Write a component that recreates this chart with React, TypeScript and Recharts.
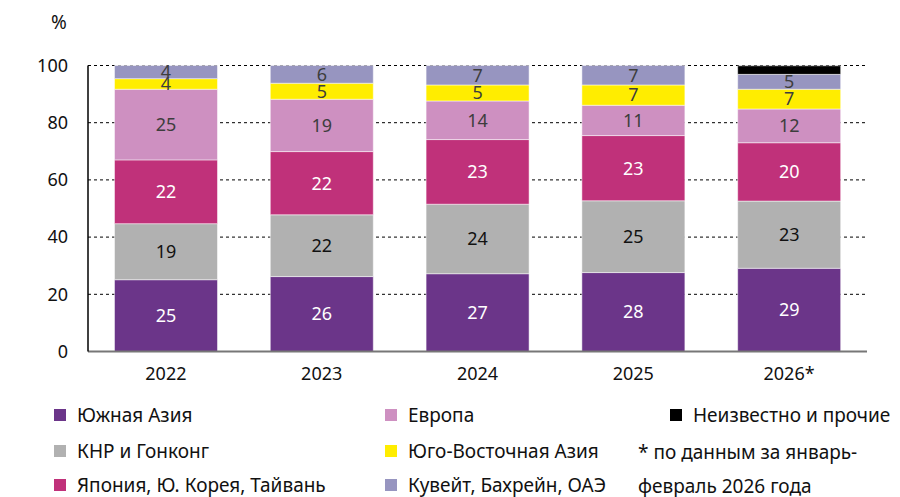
import { Bar, BarChart, CartesianGrid, LabelList, XAxis, YAxis } from "recharts";

const years = ["2022", "2023", "2024", "2025", "2026*"];

// segment heights (pp of total)
const southAsia = [25.1, 26.2, 27.2, 27.6, 29.1];
const china = [19.6, 21.6, 24.3, 25.1, 23.5];
const japanKorea = [22.3, 22.1, 22.6, 22.8, 20.4];
const europe = [24.7, 18.3, 13.5, 10.6, 11.8];
const seAsia = [3.7, 5.6, 5.6, 7.1, 6.9];
const gulf = [4.6, 6.2, 6.8, 6.8, 5.2];
const other = [0, 0, 0, 0, 3.0];

// printed labels
const southAsiaLbl = [25, 26, 27, 28, 29];
const chinaLbl = [19, 22, 24, 25, 23];
const japanKoreaLbl = [22, 22, 23, 23, 20];
const europeLbl = [25, 19, 14, 11, 12];
const seAsiaLbl = [4, 5, 5, 7, 7];
const gulfLbl = [4, 6, 7, 7, 5];

const yTicks = [0, 20, 40, 60, 80, 100];

const PURPLE = "#6b3589";
const GREY = "#b1b1b1";
const MAGENTA = "#c0317a";
const PINK = "#ce90c1";
const YELLOW = "#ffed00";
const LAVENDER = "#9795c0";
const BLACK = "#000000";
const DARK = "#3d3d3d";
const FONT = "'Noto Sans', sans-serif";

const rows = years.map((y, i) => ({
  year: y,
  sa: southAsia[i],
  cn: china[i],
  jk: japanKorea[i],
  eu: europe[i],
  se: seAsia[i],
  gu: gulf[i],
  ot: other[i],
  saL: southAsiaLbl[i],
  cnL: chinaLbl[i],
  jkL: japanKoreaLbl[i],
  euL: europeLbl[i],
  seL: seAsiaLbl[i],
  guL: gulfLbl[i],
}));

const series = [
  { key: "sa", label: "saL", color: PURPLE, text: "#ffffff" },
  { key: "cn", label: "cnL", color: GREY, text: "#111111" },
  { key: "jk", label: "jkL", color: MAGENTA, text: "#ffffff" },
  { key: "eu", label: "euL", color: PINK, text: DARK },
  { key: "se", label: "seL", color: YELLOW, text: DARK },
  { key: "gu", label: "guL", color: LAVENDER, text: DARK },
  { key: "ot", label: "", color: BLACK, text: "" },
];

function Sq({ color }: { color: string }) {
  return <span style={{ display: "inline-block", width: 12, height: 12, background: color, marginRight: 11 }} />;
}

function Item({ x, y, color, label }: { x: number; y: number; color: string; label: string }) {
  return (
    <div style={{ position: "absolute", left: x, top: y, display: "flex", alignItems: "center", whiteSpace: "nowrap", lineHeight: "26px" }}>
      <Sq color={color} />
      <span>{label}</span>
    </div>
  );
}

export default function App() {
  return (
    <div style={{ position: "absolute", left: 0, top: 0, width: 900, height: 497, fontFamily: FONT, fontSize: 19, color: "#111", background: "#fff" }}>
      <div style={{ position: "absolute", left: 51, top: 9, fontSize: 19 }}>%</div>
      <BarChart
        width={900}
        height={400}
        data={rows}
        margin={{ top: 65.5, right: 33, left: 0, bottom: 18.5 }}
        barCategoryGap="17%"
      >
        <CartesianGrid vertical={false} stroke="#000" strokeDasharray="3 3" strokeWidth={1} />
        <XAxis
          dataKey="year"
          tickLine={false}
          tickSize={0}
          tickMargin={16}
          height={30}
          axisLine={{ stroke: "#777", strokeWidth: 2 }}
          tick={{ fill: "#111", fontSize: 18, fontFamily: FONT }}
        />
        <YAxis
          domain={[0, 100]}
          ticks={yTicks}
          width={88}
          tickLine={false}
          tickSize={0}
          tickMargin={20}
          axisLine={{ stroke: "#000", strokeWidth: 1.5 }}
          tick={{ fill: "#111", fontSize: 18, fontFamily: FONT }}
        />
        {series.map((s) => (
          <Bar key={s.key} dataKey={s.key} stackId="a" fill={s.color} stroke="#ffffff" strokeWidth={0.5} isAnimationActive={false}>
            {s.label ? (
              <LabelList dataKey={s.label} position="center" fill={s.text} fontSize={18} fontFamily={FONT} />
            ) : null}
          </Bar>
        ))}
      </BarChart>
      <Item x={54} y={402} color={PURPLE} label="Южная Азия" />
      <Item x={54} y={438} color={GREY} label="КНР и Гонконг" />
      <Item x={54} y={472} color={MAGENTA} label="Япония, Ю. Корея, Тайвань" />
      <Item x={385} y={402} color={PINK} label="Европа" />
      <Item x={385} y={438} color={YELLOW} label="Юго-Восточная Азия" />
      <Item x={385} y={472} color={LAVENDER} label="Кувейт, Бахрейн, ОАЭ" />
      <Item x={670} y={402} color={BLACK} label="Неизвестно и прочие" />
      <div style={{ position: "absolute", left: 638, top: 435, whiteSpace: "nowrap", lineHeight: "34px" }}>
        * по данным за январь-
        <br />
        февраль 2026 года
      </div>
    </div>
  );
}
